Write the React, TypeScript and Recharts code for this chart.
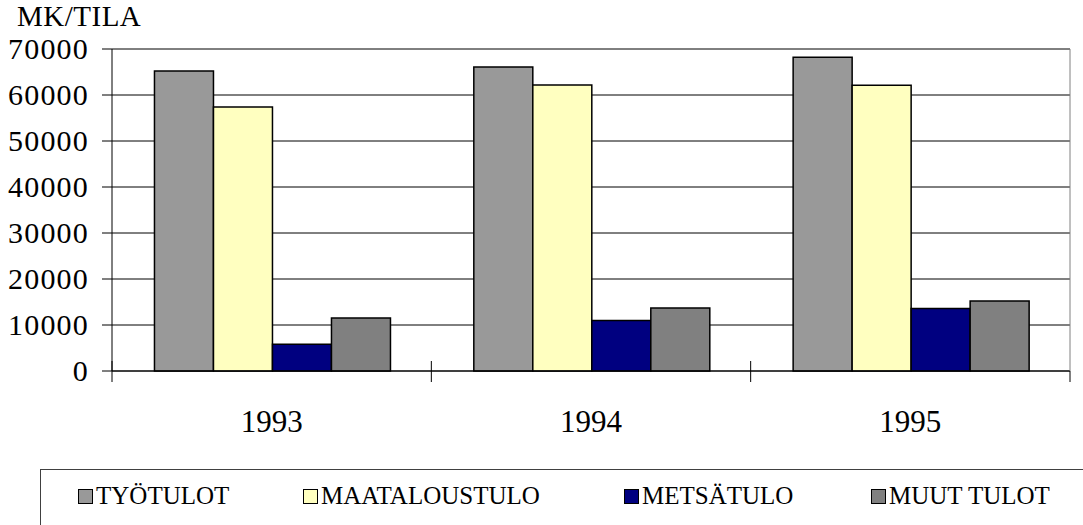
import { BarChart, Bar, XAxis, YAxis, CartesianGrid } from "recharts";

const years = ["1993", "1994", "1995"];
const tyotulot = [65200, 66100, 68200];
const maataloustulo = [57400, 62200, 62100];
const metsatulo = [5800, 11000, 13600];
const muutTulot = [11500, 13700, 15200];
const yTicks = [0, 10000, 20000, 30000, 40000, 50000, 60000, 70000];

const series = [
  { key: "tyotulot", name: "TYÖTULOT", color: "#999999" },
  { key: "maataloustulo", name: "MAATALOUSTULO", color: "#ffffc0" },
  { key: "metsatulo", name: "METSÄTULO", color: "#000080" },
  { key: "muut", name: "MUUT TULOT", color: "#808080" },
];

const data = years.map((year, i) => ({
  year,
  tyotulot: tyotulot[i],
  maataloustulo: maataloustulo[i],
  metsatulo: metsatulo[i],
  muut: muutTulot[i],
}));

const W = 1083;
const H = 525;
const FONT = "Liberation Serif";
const PLOT_W = W - 112 - 13;
const HALF = PLOT_W / years.length / 2;
const legendX = [78, 303, 624, 871];

const YearTick = (props: any) => {
  const { x, y, payload, index } = props;
  return (
    <g>
      <line x1={x - HALF} x2={x - HALF} y1={y - 10} y2={y + 11} stroke="#000" />
      {index === years.length - 1 && (
        <line x1={x + HALF} x2={x + HALF} y1={y} y2={y + 11} stroke="#000" />
      )}
      <text x={x} y={y + 61} textAnchor="middle" fontSize={31} fill="#000" fontFamily={FONT}>
        {payload.value}
      </text>
    </g>
  );
};

const ValueTick = (props: any) => {
  const { x, y, payload } = props;
  return (
    <text x={x + 1} y={y + 10} textAnchor="end" fontSize={30} fill="#000" fontFamily={FONT} letterSpacing={1.2}>
      {payload.value}
    </text>
  );
};

export default function App() {
  return (
    <div style={{ position: "absolute", left: 0, top: 0, width: W, height: H, overflow: "hidden", background: "#fff", fontFamily: FONT }}>
      <div style={{ position: "absolute", left: 17, top: 6, fontSize: 29, lineHeight: "20px", letterSpacing: 0.5, color: "#000", fontFamily: FONT }}>MK/TILA</div>
      <BarChart width={W} height={H} data={data} margin={{ top: 49, right: 0, bottom: 74, left: 0 }} barCategoryGap="13.3%" barGap={0}>
        <CartesianGrid vertical={false} stroke="#000" strokeOpacity={1} />
        <XAxis
          dataKey="year"
          height={80}
          axisLine={{ stroke: "#000" }}
          tickLine={false}
          tickSize={0}
          tickMargin={0}
          tick={<YearTick />}
          interval={0}
        />
        <YAxis
          width={112}
          domain={[0, 70000]}
          ticks={yTicks}
          interval={0}
          tickSize={10}
          tickMargin={14}
          axisLine={{ stroke: "#000" }}
          tickLine={{ stroke: "#000" }}
          tick={<ValueTick />}
        />
        <YAxis yAxisId="r" orientation="right" width={13} domain={[0, 1]} tick={false} tickLine={false} axisLine={{ stroke: "#808080" }} />
        {series.map((s) => (
          <Bar key={s.key} dataKey={s.key} name={s.name} fill={s.color} stroke="#000" strokeWidth={1.5} isAnimationActive={false} />
        ))}
      </BarChart>
      <div style={{ position: "absolute", left: 40, top: 469, width: 1200, height: 200, borderTop: "1px solid #404040", borderLeft: "1px solid #404040" }} />
      {series.map((s, i) => (
        <div key={s.key} style={{ position: "absolute", left: legendX[i], top: 480, display: "flex", alignItems: "center", whiteSpace: "nowrap", fontSize: 25, lineHeight: "32px", color: "#000", fontFamily: FONT }}>
          <span style={{ width: 13, height: 13, background: s.color, border: "1px solid #000", marginRight: 3, display: "inline-block" }} />
          <span>{s.name}</span>
        </div>
      ))}
    </div>
  );
}
